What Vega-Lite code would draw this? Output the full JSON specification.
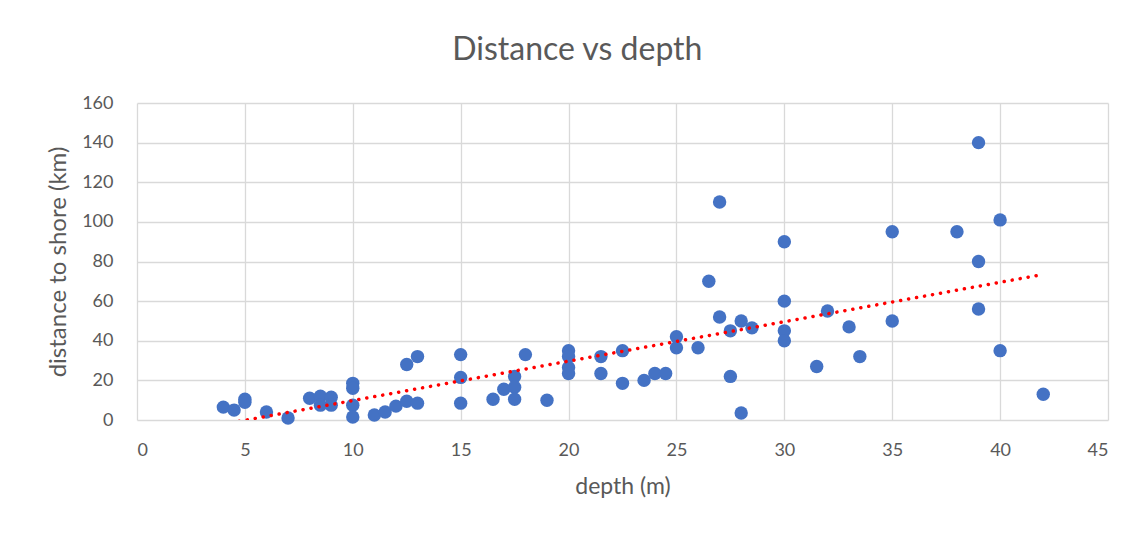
{
  "$schema": "https://vega.github.io/schema/vega-lite/v6.json",
  "width": 971,
  "height": 317,
  "autosize": {"type": "none"},
  "padding": {"left": 137, "top": 103, "right": 35, "bottom": 114},
  "background": "white",
  "title": {"text": "Distance vs depth", "font": "Lato", "fontSize": 32, "fontWeight": "normal", "color": "#595959", "offset": 27, "anchor": "middle", "frame": "bounds"},
  "config": {"view": {"stroke": null}, "axis": {"labelFont": "Lato", "titleFont": "Lato", "labelColor": "#595959", "titleColor": "#595959", "labelFontSize": 18, "titleFontSize": 23, "titleFontWeight": "normal", "gridColor": "#D9D9D9", "gridWidth": 1.3, "domain": false, "ticks": false}},
  "data": {"values": [
    {"depth": 4, "distance": 6.5}, {"depth": 4.5, "distance": 5}, {"depth": 5, "distance": 10.5}, {"depth": 5, "distance": 9},
    {"depth": 6, "distance": 4}, {"depth": 7, "distance": 1}, {"depth": 8, "distance": 11}, {"depth": 8.5, "distance": 12},
    {"depth": 9, "distance": 11.5}, {"depth": 8.5, "distance": 7.5}, {"depth": 9, "distance": 7.5}, {"depth": 10, "distance": 18.5},
    {"depth": 10, "distance": 16}, {"depth": 10, "distance": 7.5}, {"depth": 10, "distance": 1.5}, {"depth": 11, "distance": 2.5},
    {"depth": 11.5, "distance": 4}, {"depth": 12, "distance": 7}, {"depth": 12.5, "distance": 9.5}, {"depth": 13, "distance": 8.5},
    {"depth": 12.5, "distance": 28}, {"depth": 13, "distance": 32}, {"depth": 15, "distance": 33}, {"depth": 15, "distance": 21.5},
    {"depth": 15, "distance": 8.5}, {"depth": 16.5, "distance": 10.5}, {"depth": 17, "distance": 15.5}, {"depth": 17.5, "distance": 22},
    {"depth": 17.5, "distance": 16.5}, {"depth": 17.5, "distance": 10.5}, {"depth": 18, "distance": 33}, {"depth": 19, "distance": 10},
    {"depth": 20, "distance": 35}, {"depth": 20, "distance": 32}, {"depth": 20, "distance": 26.5}, {"depth": 20, "distance": 23.5},
    {"depth": 21.5, "distance": 32}, {"depth": 21.5, "distance": 23.5}, {"depth": 22.5, "distance": 35}, {"depth": 22.5, "distance": 18.5},
    {"depth": 23.5, "distance": 20}, {"depth": 24, "distance": 23.5}, {"depth": 24.5, "distance": 23.5}, {"depth": 25, "distance": 42},
    {"depth": 25, "distance": 36.5}, {"depth": 26, "distance": 36.5}, {"depth": 26.5, "distance": 70}, {"depth": 27, "distance": 110},
    {"depth": 27, "distance": 52}, {"depth": 27.5, "distance": 45}, {"depth": 27.5, "distance": 22}, {"depth": 28, "distance": 50},
    {"depth": 28, "distance": 3.5}, {"depth": 28.5, "distance": 46.5}, {"depth": 30, "distance": 90}, {"depth": 30, "distance": 60},
    {"depth": 30, "distance": 45}, {"depth": 30, "distance": 40}, {"depth": 31.5, "distance": 27}, {"depth": 32, "distance": 55},
    {"depth": 33, "distance": 47}, {"depth": 33.5, "distance": 32}, {"depth": 35, "distance": 95}, {"depth": 35, "distance": 50},
    {"depth": 38, "distance": 95}, {"depth": 39, "distance": 140}, {"depth": 39, "distance": 80}, {"depth": 39, "distance": 56},
    {"depth": 40, "distance": 101}, {"depth": 40, "distance": 35}, {"depth": 42, "distance": 13}
  ]},
  "encoding": {
    "x": {"field": "depth", "type": "quantitative", "scale": {"domain": [0, 45], "nice": false, "zero": false}, "axis": {"title": "depth (m)", "values": [0, 5, 10, 15, 20, 25, 30, 35, 40, 45], "labelPadding": 21, "titlePadding": 16}},
    "y": {"field": "distance", "type": "quantitative", "scale": {"domain": [0, 160], "nice": false}, "axis": {"title": "distance to shore (km)", "titleFontSize": 24, "values": [0, 20, 40, 60, 80, 100, 120, 140, 160], "labelPadding": 24, "titlePadding": 11}}
  },
  "layer": [
    {"mark": {"type": "point", "filled": true, "shape": "circle", "size": 180, "color": "#4472C4", "opacity": 1}},
    {"transform": [{"regression": "distance", "on": "depth"}], "mark": {"type": "line", "color": "#FF0000", "strokeWidth": 3.5, "strokeDash": [0.1, 8], "strokeCap": "round", "clip": true}}
  ]
}
